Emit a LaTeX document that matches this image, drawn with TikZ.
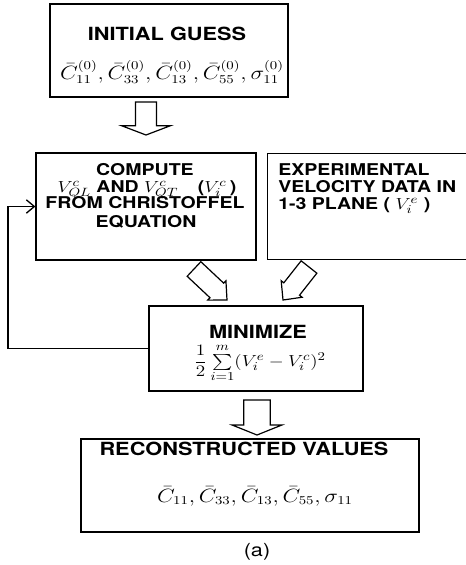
\documentclass[tikz,border=0pt]{standalone}
\usepackage{graphicx}
\usepackage{amsmath}
\usepackage{fontspec}
\setsansfont{TeX Gyre Heros}
\usetikzlibrary{calc,arrows.meta}

\newcommand{\wide}[1]{\scalebox{1.2}[1]{#1}}
% hollow block arrow: start, tip, shaft half width, head half width, head length
\newcommand{\hollowarrow}[5]{%
      \coordinate (hb) at ($(#2)!#5!(#1)$);
      \draw[hollow] ($(#1)!#3!90:(#2)$) -- ($(hb)!#3!90:(#2)$) -- ($(hb)!#4!90:(#2)$) -- (#2)
            -- ($(hb)!#4!-90:(#2)$) -- ($(hb)!#3!-90:(#2)$) -- ($(#1)!#3!-90:(#2)$) -- cycle;
    }

\tikzset{
      box/.style={shape=rectangle,draw=black,line width=0.9pt,inner sep=0pt},
      title/.style={anchor=base,inner sep=0pt,font=\fontsize{13.6}{16}\sffamily\bfseries},
      lbl/.style={anchor=base,inner sep=0pt,font=\fontsize{12.2}{14}\sffamily\bfseries},
      eqn/.style={anchor=base,inner sep=0pt,font=\fontsize{13.5}{16}\selectfont},
      hollow/.style={draw=black,line width=0.9pt,fill=white,line join=miter},
      feedback/.style={line width=1.4pt,-{Straight Barb[length=6pt,width=10pt,line width=1pt]}},
    }

\begin{document}
\begin{tikzpicture}[x=0.75pt,y=-0.75pt]
      \useasboundingbox (0,0) rectangle (465,565);

      \node[box,minimum width=178.5pt,minimum height=69.75pt] (G) at (169,50.5) {};
      \node[box,minimum width=165pt,minimum height=80.25pt] (C) at (146,206.5) {};
      % right side runs off the page
      \node[box,draw=none,minimum width=157.5pt,minimum height=78.75pt] (E) at (373,206.5) {};
      \draw[line width=0.9pt] (E.north east) -- (E.north west) -- (E.south west) -- (E.south east);
      \node[box,minimum width=160.5pt,minimum height=63.75pt] (M) at (256,348.5) {};
      \node[box,minimum width=253.5pt,minimum height=69.75pt] (R) at (250,485.5) {};

      \node[title] (G1) at (167,40) {\wide{INITIAL GUESS}};
      \node[eqn] (G2) at (172,79) {\wide{$\bar{C}^{(0)}_{11},\bar{C}^{(0)}_{33},\bar{C}^{(0)}_{13},\bar{C}^{(0)}_{55},\sigma^{(0)}_{11}$}};

      \node[lbl] (C1) at (145,175) {\wide{COMPUTE}};
      \node[lbl] (C2) at (147,192) {\wide{$V^c_{QL}$ AND $V^c_{QT}$\quad($V^c_i$\,)}};
      \node[lbl] (C3) at (145,208) {\wide{FROM CHRISTOFFEL}};
      \node[lbl] (C4) at (146,227) {\wide{EQUATION}};

      \node[lbl,anchor=base west] (E1) at (278,175) {\wide{EXPERIMENTAL}};
      \node[lbl,anchor=base west] (E2) at (278,192) {\wide{VELOCITY DATA IN}};
      \node[lbl,anchor=base west] (E3) at (278,209) {\wide{1-3 PLANE ( $V^e_i$ )}};

      \node[title] (M1) at (258,338) {\wide{MINIMIZE}};
      \node[eqn,font=\fontsize{12.8}{15}\selectfont] (M2) at (260,366) {\wide{$\dfrac{1}{2}\textstyle\sum\limits_{i=1}^{m}(V^e_i-V^c_i)^2$}};

      \node[title] (R1) at (244,455) {\wide{RECONSTRUCTED VALUES}};
      \node[eqn] (R2) at (255,502) {\wide{$\bar{C}_{11},\bar{C}_{33},\bar{C}_{13},\bar{C}_{55},\sigma_{11}$}};

      \node[anchor=base,inner sep=0pt,font=\fontsize{13.5}{16}\sffamily] (cap) at (257,556) {\wide{(a)}};

      \coordinate (A1s) at (146,102);
      \coordinate (A1e) at (146,135);
      \coordinate (A2s) at (194,269);
      \coordinate (A2e) at (227,300);
      \coordinate (A3s) at (309,267);
      \coordinate (A3e) at (283,300);
      \coordinate (A4s) at (257,400);
      \coordinate (A4e) at (257,435);
      \coordinate (loop) at (8,0);

      \hollowarrow{A1s}{A1e}{7.9pt}{18.4pt}{7pt}
      \hollowarrow{A2s}{A2e}{7.5pt}{10pt}{10.5pt}
      \hollowarrow{A3s}{A3e}{7.5pt}{10pt}{10.5pt}
      \hollowarrow{A4s}{A4e}{10pt}{18.7pt}{7.5pt}

      \draw[feedback] (M.west) -| (loop |- C.west) -- (C.west);
  \end{tikzpicture}
\end{document}
